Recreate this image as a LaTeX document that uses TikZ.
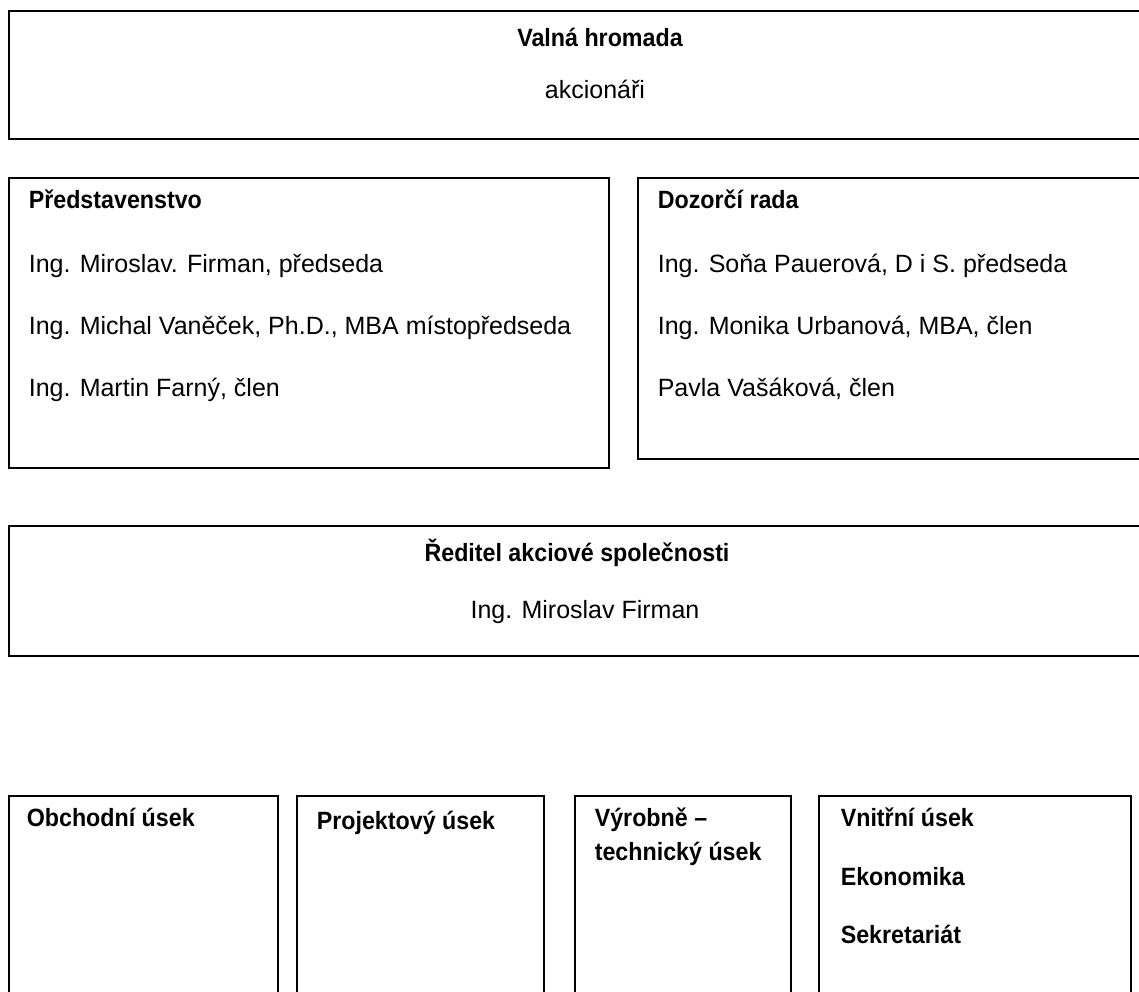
\documentclass[tikz,border=0pt]{standalone}
\usepackage{fontspec}
\setmainfont{Liberation Sans}[BoldFeatures={FakeStretch=0.93}]
\usetikzlibrary{positioning,calc}

\begin{document}
\begin{tikzpicture}[x=1pt, y=-1pt, inner sep=0pt, line width=1.6pt, node distance=62pt]
\tikzstyle{box}=[draw=black, rectangle, anchor=north west]
\tikzstyle{txt}=[anchor=west, text height=18pt, text depth=5pt, font=\fontsize{25}{30}\selectfont]
\tikzstyle{head}=[txt, font=\fontsize{25}{30}\selectfont\bfseries]
\useasboundingbox (0,0) rectangle (1139,991);
\clip (0,0) rectangle (1139,991);

% boxes
\node[box, minimum width=1152pt, minimum height=128pt] (VH) at (8,10) {};
\node[box, minimum width=600pt, minimum height=290pt]  (P)  at (8,177) {};
\node[box, minimum width=523pt, minimum height=281pt]  (DR) at (637,177) {};
\node[box, minimum width=1152pt, minimum height=130pt] (R)  at (8,525) {};
\node[box, minimum width=269pt, minimum height=220pt]  (OU) at (8,795) {};
\node[box, minimum width=247pt, minimum height=220pt]  (PU) at (296,795) {};
\node[box, minimum width=216pt, minimum height=220pt]  (VU) at (574,795) {};
\node[box, minimum width=312pt, minimum height=220pt]  (NU) at (818,795) {};

% valna hromada
\node[head, anchor=center] (VHt) at (600,40) {Valná hromada};
\node[txt, anchor=center]  (VH1) at (595,92) {akcionáři};

% predstavenstvo
\node[head] (Pt) at (28,202) {Představenstvo};
\node[txt, below=64pt of Pt.west, anchor=west] (P1) {Ing. Miroslav. Firman, předseda};
\node[txt, below=of P1.west, anchor=west] (P2) {Ing. Michal Vaněček, Ph.D., MBA místopředseda};
\node[txt, below=of P2.west, anchor=west] (P3) {Ing. Martin Farný, člen};

% dozorci rada
\node[head] (DRt) at (657,202) {Dozorčí rada};
\node[txt, below=64pt of DRt.west, anchor=west] (DR1) {Ing. Soňa Pauerová, D i S. předseda};
\node[txt, below=of DR1.west, anchor=west] (DR2) {Ing. Monika Urbanová, MBA, člen};
\node[txt, below=of DR2.west, anchor=west] (DR3) {Pavla Vašáková, člen};

% reditel
\node[head, anchor=center] (Rt) at (577,555) {Ředitel akciové společnosti};
\node[txt, anchor=center]  (R1) at (585,612) {Ing. Miroslav Firman};

% useky
\node[head] (OUt) at (26,820) {Obchodní úsek};
\node[head] (PUt) at (316,823) {Projektový úsek};
\node[head] (VUt) at (594,820) {Výrobně –};
\node[head, below=34pt of VUt.west, anchor=west] (VUt2) {technický úsek};
\node[head] (NUt) at (840,820) {Vnitřní úsek};
\node[head, below=59pt of NUt.west, anchor=west] (NU1) {Ekonomika};
\node[head, below=58pt of NU1.west, anchor=west] (NU2) {Sekretariát};
\end{tikzpicture}
\end{document}
